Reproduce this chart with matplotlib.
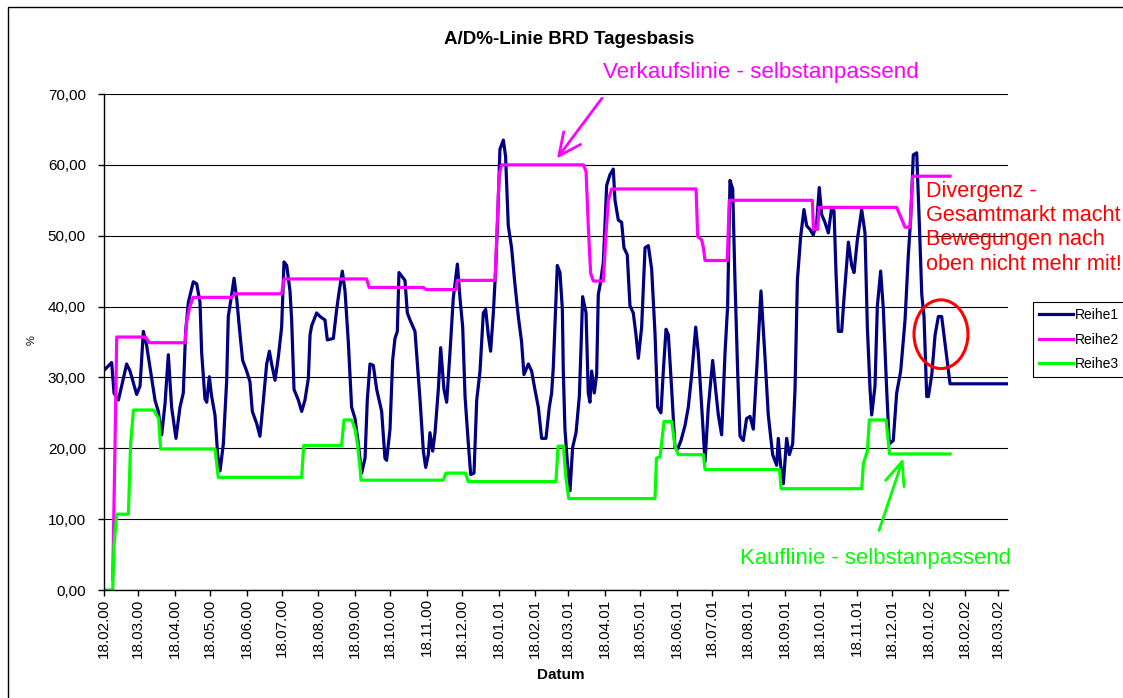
import numpy as np
import matplotlib
matplotlib.use("Agg")
import matplotlib.pyplot as plt
import matplotlib.dates as mdates
from matplotlib.patches import Ellipse, Rectangle
from matplotlib.ticker import MultipleLocator, FuncFormatter

plt.rcParams["font.family"] = ["Liberation Sans", "DejaVu Sans"]

# trading-day offsets (days since 18.02.2000) and values
start = "2000-02-18"
reihe1_days = [0, 6.5, 8.5, 12.2, 15.0, 19.2, 22.1, 27.7, 30.6, 33.4, 36.2, 43.3, 46.1, 49.0,
               51.8, 54.6, 57.4, 61.1, 64.5, 67.3, 69.3, 71.6, 75.8, 78.7, 81.5, 82.9, 85.7,
               87.2, 89.4, 91.4, 94.2, 96.5, 98.5, 101.3, 104.1, 105.5, 108.4, 110.4, 112.6,
               115.5, 117.7, 121.1, 123.9, 125.9, 129.6, 132.4, 135.3, 138.1, 140.4, 142.3,
               145.2, 148.0, 150.8, 152.8, 155.1, 157.9, 159.3, 161.3, 165.0, 167.8, 170.6,
               173.5, 174.9, 176.3, 180.5, 183.4, 187.6, 189.6, 194.7, 197.5, 199.7, 202.3,
               204.6, 207.4, 210.2, 213.1, 215.9, 218.7, 221.6, 223.5, 225.8, 228.6, 231.5,
               235.7, 238.5, 239.9, 242.8, 245.0, 247.0, 249.0, 250.4, 255.5, 257.5, 259.8,
               264.0, 266.0, 268.3, 271.1, 273.1, 275.3, 276.7, 279.0, 281.0, 283.8, 285.8,
               288.6, 290.9, 293.7, 296.5, 300.0, 302.2, 304.5, 306.5, 309.3, 311.3, 314.1,
               316.4, 319.2, 322.0, 324.0, 326.2, 328.2, 330.5, 332.5, 334.2, 336.1, 339.0,
               340.9, 343.2, 346.0, 348.8, 351.7, 354.5, 356.5, 360.2, 363.0, 365.8, 368.7,
               371.5, 375.2, 378.0, 380.0, 381.4, 384.8, 387.1, 389.1, 389.9, 391.3, 393.3,
               395.6, 397.8, 400.7, 403.5, 404.9, 406.3, 409.2, 411.1, 412.5, 414.0, 416.2,
               418.2, 419.6, 421.6, 423.9, 426.7, 429.5, 432.3, 433.8, 436.6, 439.4, 441.4,
               444.2, 446.5, 449.3, 451.6, 453.6, 456.4, 459.3, 462.1, 464.9, 467.8, 470.0,
               472.8, 474.8, 477.1, 479.1, 481.9, 484.7, 487.0, 489.8, 493.2, 496.0, 498.9,
               502.3, 504.5, 507.4, 510.2, 513.0, 516.7, 519.2, 521.5, 524.3, 527.2, 529.4,
               531.4, 533.7, 535.7, 537.9, 539.9, 542.7, 545.5, 548.4, 551.2, 554.0, 557.7,
               561.1, 563.9, 567.6, 571.0, 572.4, 574.4, 576.7, 579.5, 581.8, 584.6, 586.6,
               588.6, 591.4, 594.2, 596.5, 599.3, 602.1, 605.0, 607.2, 609.2, 612.0, 614.9,
               617.7, 619.7, 621.4, 623.4, 626.2, 628.2, 631.9, 634.7, 636.7, 639.5, 643.2,
               646.0, 648.0, 650.3, 651.7, 654.5, 656.5, 659.3, 661.6, 664.4, 666.6, 670.0,
               672.9, 676.3, 680.0, 682.8, 684.8, 687.0, 689.9, 692.2, 694.2, 696.1, 698.4,
               699.8, 702.7, 705.5, 708.3, 711.1, 715.4, 718.2, 767.0]
reihe1_vals = [31.0, 32.1, 27.8, 26.8, 28.8, 31.9, 30.9, 27.6, 28.8, 36.5, 34.5, 26.8, 25.2, 21.9,
               26.3, 33.2, 25.8, 21.4, 25.8, 27.8, 36.5, 40.6, 43.5, 43.2, 40.6, 33.5, 27.0,
               26.5, 30.1, 27.3, 24.7, 19.1, 16.8, 20.6, 29.4, 38.6, 41.7, 44.0, 41.2,
               36.0, 32.4, 30.9, 29.4, 25.2, 23.5, 21.7, 26.8, 31.9, 33.7, 31.9,
               29.6, 32.9, 37.1, 46.3, 45.8, 42.2, 38.1, 28.3, 26.8, 25.2, 26.8,
               29.9, 36.0, 37.3, 39.1, 38.6, 38.1, 35.3, 35.5, 39.6, 42.2, 45.0,
               42.2, 35.0, 25.8, 24.2, 20.6, 16.5, 18.6, 26.8, 31.9, 31.7, 28.3,
               25.2, 18.6, 18.3, 22.7, 32.4, 35.5, 36.5, 44.8, 43.7, 39.1, 38.1,
               36.5, 31.9, 26.8, 19.6, 17.3, 19.1, 22.2, 19.6, 22.2, 28.3, 34.2,
               28.3, 26.5, 33.5, 41.2, 46.0, 41.2, 37.1, 27.3, 20.6, 16.3, 16.5,
               26.8, 30.9, 39.1, 39.6, 36.0, 33.7, 39.1, 45.3, 52.4, 62.2, 63.5,
               61.2, 51.4, 48.3, 43.2, 38.6, 35.0, 30.4, 31.9, 30.9, 28.3, 25.8,
               21.4, 21.4, 25.8, 27.8, 31.4, 45.8, 44.8, 39.6, 30.9, 22.7, 18.1,
               14.0, 20.1, 22.2, 27.3, 34.0, 41.4, 39.1, 27.8, 26.5, 30.9, 27.8,
               30.4, 41.7, 43.5, 46.3, 57.1, 58.6, 59.4, 55.0, 52.2, 51.9, 48.3,
               47.3, 40.1, 39.1, 36.0, 32.7, 37.1, 48.3, 48.6, 45.3, 36.0, 25.8,
               25.0, 30.9, 36.8, 36.0, 28.3, 20.1, 19.9, 21.1, 23.2, 25.8, 30.4,
               37.1, 33.5, 25.8, 18.1, 25.8, 32.4, 28.3, 24.7, 21.9, 33.5, 40.1,
               57.8, 56.6, 43.2, 30.9, 21.7, 21.1, 24.2, 24.5, 22.7, 30.9, 42.2,
               32.9, 24.7, 19.1, 17.6, 21.4, 17.6, 15.0, 21.4, 19.1, 20.6, 28.3,
               43.7, 49.9, 53.7, 51.4, 50.9, 50.1, 51.9, 56.8, 53.0, 51.9, 50.4,
               54.0, 53.5, 44.8, 36.5, 36.5, 41.2, 49.1, 45.8, 44.8, 49.4, 53.7,
               50.4, 37.1, 28.3, 24.7, 28.8, 40.1, 45.0, 39.6, 28.3, 20.6, 21.1,
               27.8, 30.9, 38.1, 47.3, 52.4, 61.4, 61.7, 51.4, 41.7, 38.6, 27.3,
               27.3, 30.4, 36.0, 38.6, 38.6, 32.9, 29.1, 29.1]

reihe2_days = [7.4, 9.3, 10.8, 35.1, 38.5, 68.8, 70.3, 73.1, 75.8, 108.5, 111.3, 150.8, 152.8,
               222.9, 225.1, 271.1, 273.4, 298.8, 300.0, 332.0, 333.4, 335.4, 337.6, 406.9,
               409.2, 411.1, 413.1, 415.4, 423.9, 426.2, 428.1, 431.0, 502.6, 504.0, 507.4,
               508.8, 510.2, 529.1, 530.8, 601.3, 602.2, 605.9, 607.0, 672.9, 680.0, 684.2,
               686.5, 718.2]
reihe2_vals = [1.5, 20.0, 35.7, 35.7, 34.9, 34.9, 38.1, 40.1, 41.3, 41.3, 41.8, 41.8, 43.9,
               43.9, 42.7, 42.7, 42.4, 42.4, 43.7, 43.7, 49.9, 58.6, 60.0, 60.0,
               59.1, 51.4, 44.7, 43.6, 43.6, 50.4, 55.0, 56.6, 56.6, 49.9, 49.4,
               48.3, 46.5, 46.5, 55.0, 55.0, 50.9, 50.9, 54.0, 54.0, 51.2, 51.2,
               58.4, 58.4]

reihe3_days = [0, 7.4, 8.5, 10.8, 20.7, 22.6, 25.0, 42.2, 46.4, 48.1, 94.2, 97.0, 167.8, 169.5,
               201.7, 203.7, 210.2, 213.1, 215.1, 217.5, 218.1, 288.0, 290.3, 306.9, 309.2,
               383.6, 385.5, 390.0, 392.0, 394.5, 467.7, 469.0, 472.0, 475.4, 481.9, 484.7,
               487.5, 508.8, 510.2, 573.4, 574.8, 643.2, 644.6, 648.0, 649.7, 663.9, 666.8,
               718.2]
reihe3_vals = [0.0, 0.0, 6.3, 10.7, 10.7, 20.6, 25.4, 25.4, 24.2, 19.9, 19.9, 15.9, 15.9, 20.4,
               20.4, 24.0, 24.0, 22.7, 20.6, 17.0, 15.5, 15.5, 16.5, 16.5, 15.3,
               15.3, 20.3, 20.3, 16.0, 12.9, 12.9, 18.6, 18.8, 23.8, 23.8, 20.3,
               19.1, 19.1, 17.0, 17.0, 14.3, 14.3, 17.8, 19.6, 24.0, 24.0, 19.2,
               19.2]

W, H = 1123, 698
fig = plt.figure(figsize=(W / 100, H / 100), dpi=100)
ax = fig.add_axes([104 / W, 1 - 590 / H, (1008 - 104) / W, (590 - 94) / H])

t0 = mdates.date2num(np.datetime64(start))
x1 = t0 + np.array(reihe1_days)
x2 = t0 + np.array(reihe2_days)
x3 = t0 + np.array(reihe3_days)

ax.plot(x1, reihe1_vals, color="#000080", lw=2.3, label="Reihe1", solid_joinstyle="round")
ax.plot(x2, reihe2_vals, color="#ff00ff", lw=2.3, label="Reihe2", solid_joinstyle="round")
ax.plot(x3, reihe3_vals, color="#00ff00", lw=2.3, label="Reihe3", solid_joinstyle="round")

ax.set_xlim(t0, t0 + 767.4)
ax.set_ylim(0, 70)
ax.yaxis.set_major_locator(MultipleLocator(10))
ax.yaxis.set_major_formatter(FuncFormatter(lambda v, p: f"{v:.2f}".replace(".", ",")))
ax.xaxis.set_major_locator(mdates.MonthLocator(bymonthday=18))
ax.xaxis.set_major_formatter(mdates.DateFormatter("%d.%m.%y"))
ax.grid(axis="y", color="black", lw=0.8)
ax.set_axisbelow(True)
for s in ["top", "right"]:
    ax.spines[s].set_visible(False)
for s in ["left", "bottom"]:
    ax.spines[s].set_linewidth(1.0)
ax.tick_params(axis="x", direction="out", length=4, width=1, pad=2, labelsize=11,
               labelrotation=90)
ax.tick_params(axis="y", direction="out", length=4, width=1, pad=9, labelsize=11)
for lab in ax.get_xticklabels():
    lab.set_va("top")
    lab.set_ha("center")

ax.set_xlabel("Datum", fontsize=11, fontweight="bold")
ax.xaxis.set_label_coords((561 - 104) / (1008 - 104), -(668 - 590) / (590 - 94))
ax.set_ylabel("%", fontsize=8)
ax.yaxis.set_label_coords(-(104 - 37) / (1008 - 104), (590 - 340) / (590 - 94))

# annotations
fig.text(569.5 / W, 1 - 44 / H, "A/D%-Linie BRD Tagesbasis", ha="center", va="baseline",
         fontsize=13.5, fontweight="bold")
fig.text(603 / W, 1 - 78 / H, "Verkaufslinie - selbstanpassend", ha="left", va="baseline",
         fontsize=16.1, color="#ff00ff")
fig.text(740 / W, 1 - 564 / H, "Kauflinie - selbstanpassend", ha="left", va="baseline",
         fontsize=15.9, color="#00ff00")
fig.text(926 / W, 1 - 181 / H,
         "Divergenz -\nGesamtmarkt macht\nBewegungen nach\noben nicht mehr mit!",
         ha="left", va="top", fontsize=15.6, color="#ff0000", linespacing=1.2)

ax.annotate("", xy=(t0 + 384.5, 60.9), xytext=(t0 + 422.7, 69.4),
            arrowprops=dict(arrowstyle="->,head_length=0.8,head_width=0.38", color="#ff00ff",
                            lw=2.0, mutation_scale=20, shrinkA=0, shrinkB=0),
            annotation_clip=False)
ax.annotate("", xy=(t0 + 678.5, 18.6), xytext=(t0 + 657.9, 8.4),
            arrowprops=dict(arrowstyle="->,head_length=0.83,head_width=0.35", color="#00ff00",
                            lw=2.0, mutation_scale=20, shrinkA=0, shrinkB=0),
            annotation_clip=False)

ax.add_patch(Ellipse((t0 + 710.5, 36.1), 45.8, 9.7, fill=False, edgecolor="#ff0000",
                     lw=2.2, clip_on=False, zorder=5))

leg = fig.legend(loc="upper left", bbox_to_anchor=(1033 / W, 1 - 302 / H), fontsize=10,
                 frameon=True, fancybox=False, framealpha=1, edgecolor="black",
                 handlelength=2.45, handletextpad=0.15, labelspacing=0.75,
                 borderpad=0.45, borderaxespad=0)
leg.get_frame().set_linewidth(0.8)

# chart area border
fig.add_artist(Rectangle((8 / W, -0.1), 1.2, 1.1 - 7 / H, transform=fig.transFigure,
                         fill=False, edgecolor="black", lw=1.0))

fig.savefig("out.png", dpi=100)
